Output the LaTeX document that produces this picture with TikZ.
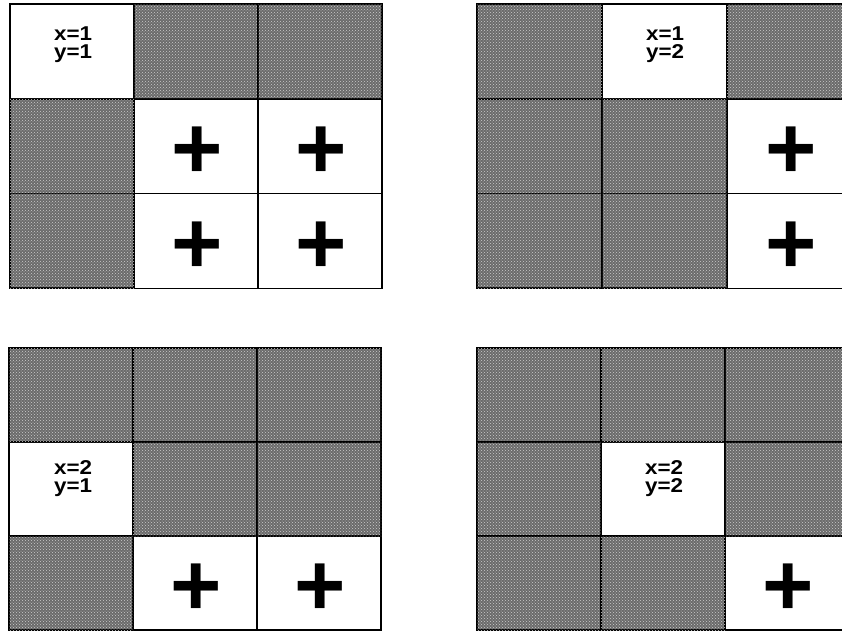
\documentclass[tikz,border=0pt]{standalone}
\usepackage{fontspec}
\setmainfont{Liberation Sans}
\newfontfamily\lblfont[FakeStretch=1.12]{Liberation Sans}
\usetikzlibrary{patterns}
\tikzset{
 graycell/.style={fill=black!58, draw=black, line width=1.8pt, postaction={pattern=crosshatch dots, pattern color=white!80!black}},
 whitecell/.style={fill=white, draw=black, line width=1.1pt},
 lbl/.style={font=\lblfont\bfseries\fontsize{20}{22}\selectfont, inner sep=0, anchor=base west},
 plussign/.style={font=\bfseries\fontsize{88}{88}\selectfont, inner sep=0}
}
% #1 name, #2 x0, #3 y0, #4 cell w, #5 cell h, #6 white cells, #7 gray cells, #8 plus cells
\newcommand\drawgrid[8]{%
  \foreach \c/\r in {#6} \draw[whitecell] (#2+\c*#4, #3+\r*#5) rectangle ++(#4,#5);
  \foreach \c/\r in {#7} \draw[graycell] (#2+\c*#4, #3+\r*#5) rectangle ++(#4,#5);
  \foreach \c/\r in {#8} \node[plussign] (#1p\c\r) at (#2+\c*#4+0.5*#4+1.5, #3+\r*#5+0.5*#5+7) {+};
}
\begin{document}
\begin{tikzpicture}[x=1pt,y=-1pt]
\useasboundingbox (0,0) rectangle (842,632);
\clip (0,0) rectangle (842,632);
% top-left
\drawgrid{A}{10}{4}{124}{94.7}{0/0,1/1,2/1,1/2,2/2}{1/0,2/0,0/1,0/2}{1/1,2/1,1/2,2/2}
\node[lbl] (Ax) at (54,40) {x=1};
\node[lbl] (Ay) at (54,58.3) {y=1};
% top-right
\drawgrid{B}{477}{4}{125}{94.7}{1/0,2/1,2/2}{0/0,2/0,0/1,1/1,0/2,1/2}{2/1,2/2}
\node[lbl] (Bx) at (646,40) {x=1};
\node[lbl] (By) at (646,58.3) {y=2};
% bottom-left
\drawgrid{C}{9}{348}{124}{94}{0/1,1/2,2/2}{0/0,1/0,2/0,1/1,2/1,0/2}{1/2,2/2}
\node[lbl] (Cx) at (54,474.3) {x=2};
\node[lbl] (Cy) at (54,492.7) {y=1};
% bottom-right
\drawgrid{D}{477}{348}{124}{94}{1/1,2/2}{0/0,1/0,2/0,0/1,2/1,0/2,1/2}{2/2}
\node[lbl] (Dx) at (645,474.3) {x=2};
\node[lbl] (Dy) at (645,492.7) {y=2};
\end{tikzpicture}
\end{document}
